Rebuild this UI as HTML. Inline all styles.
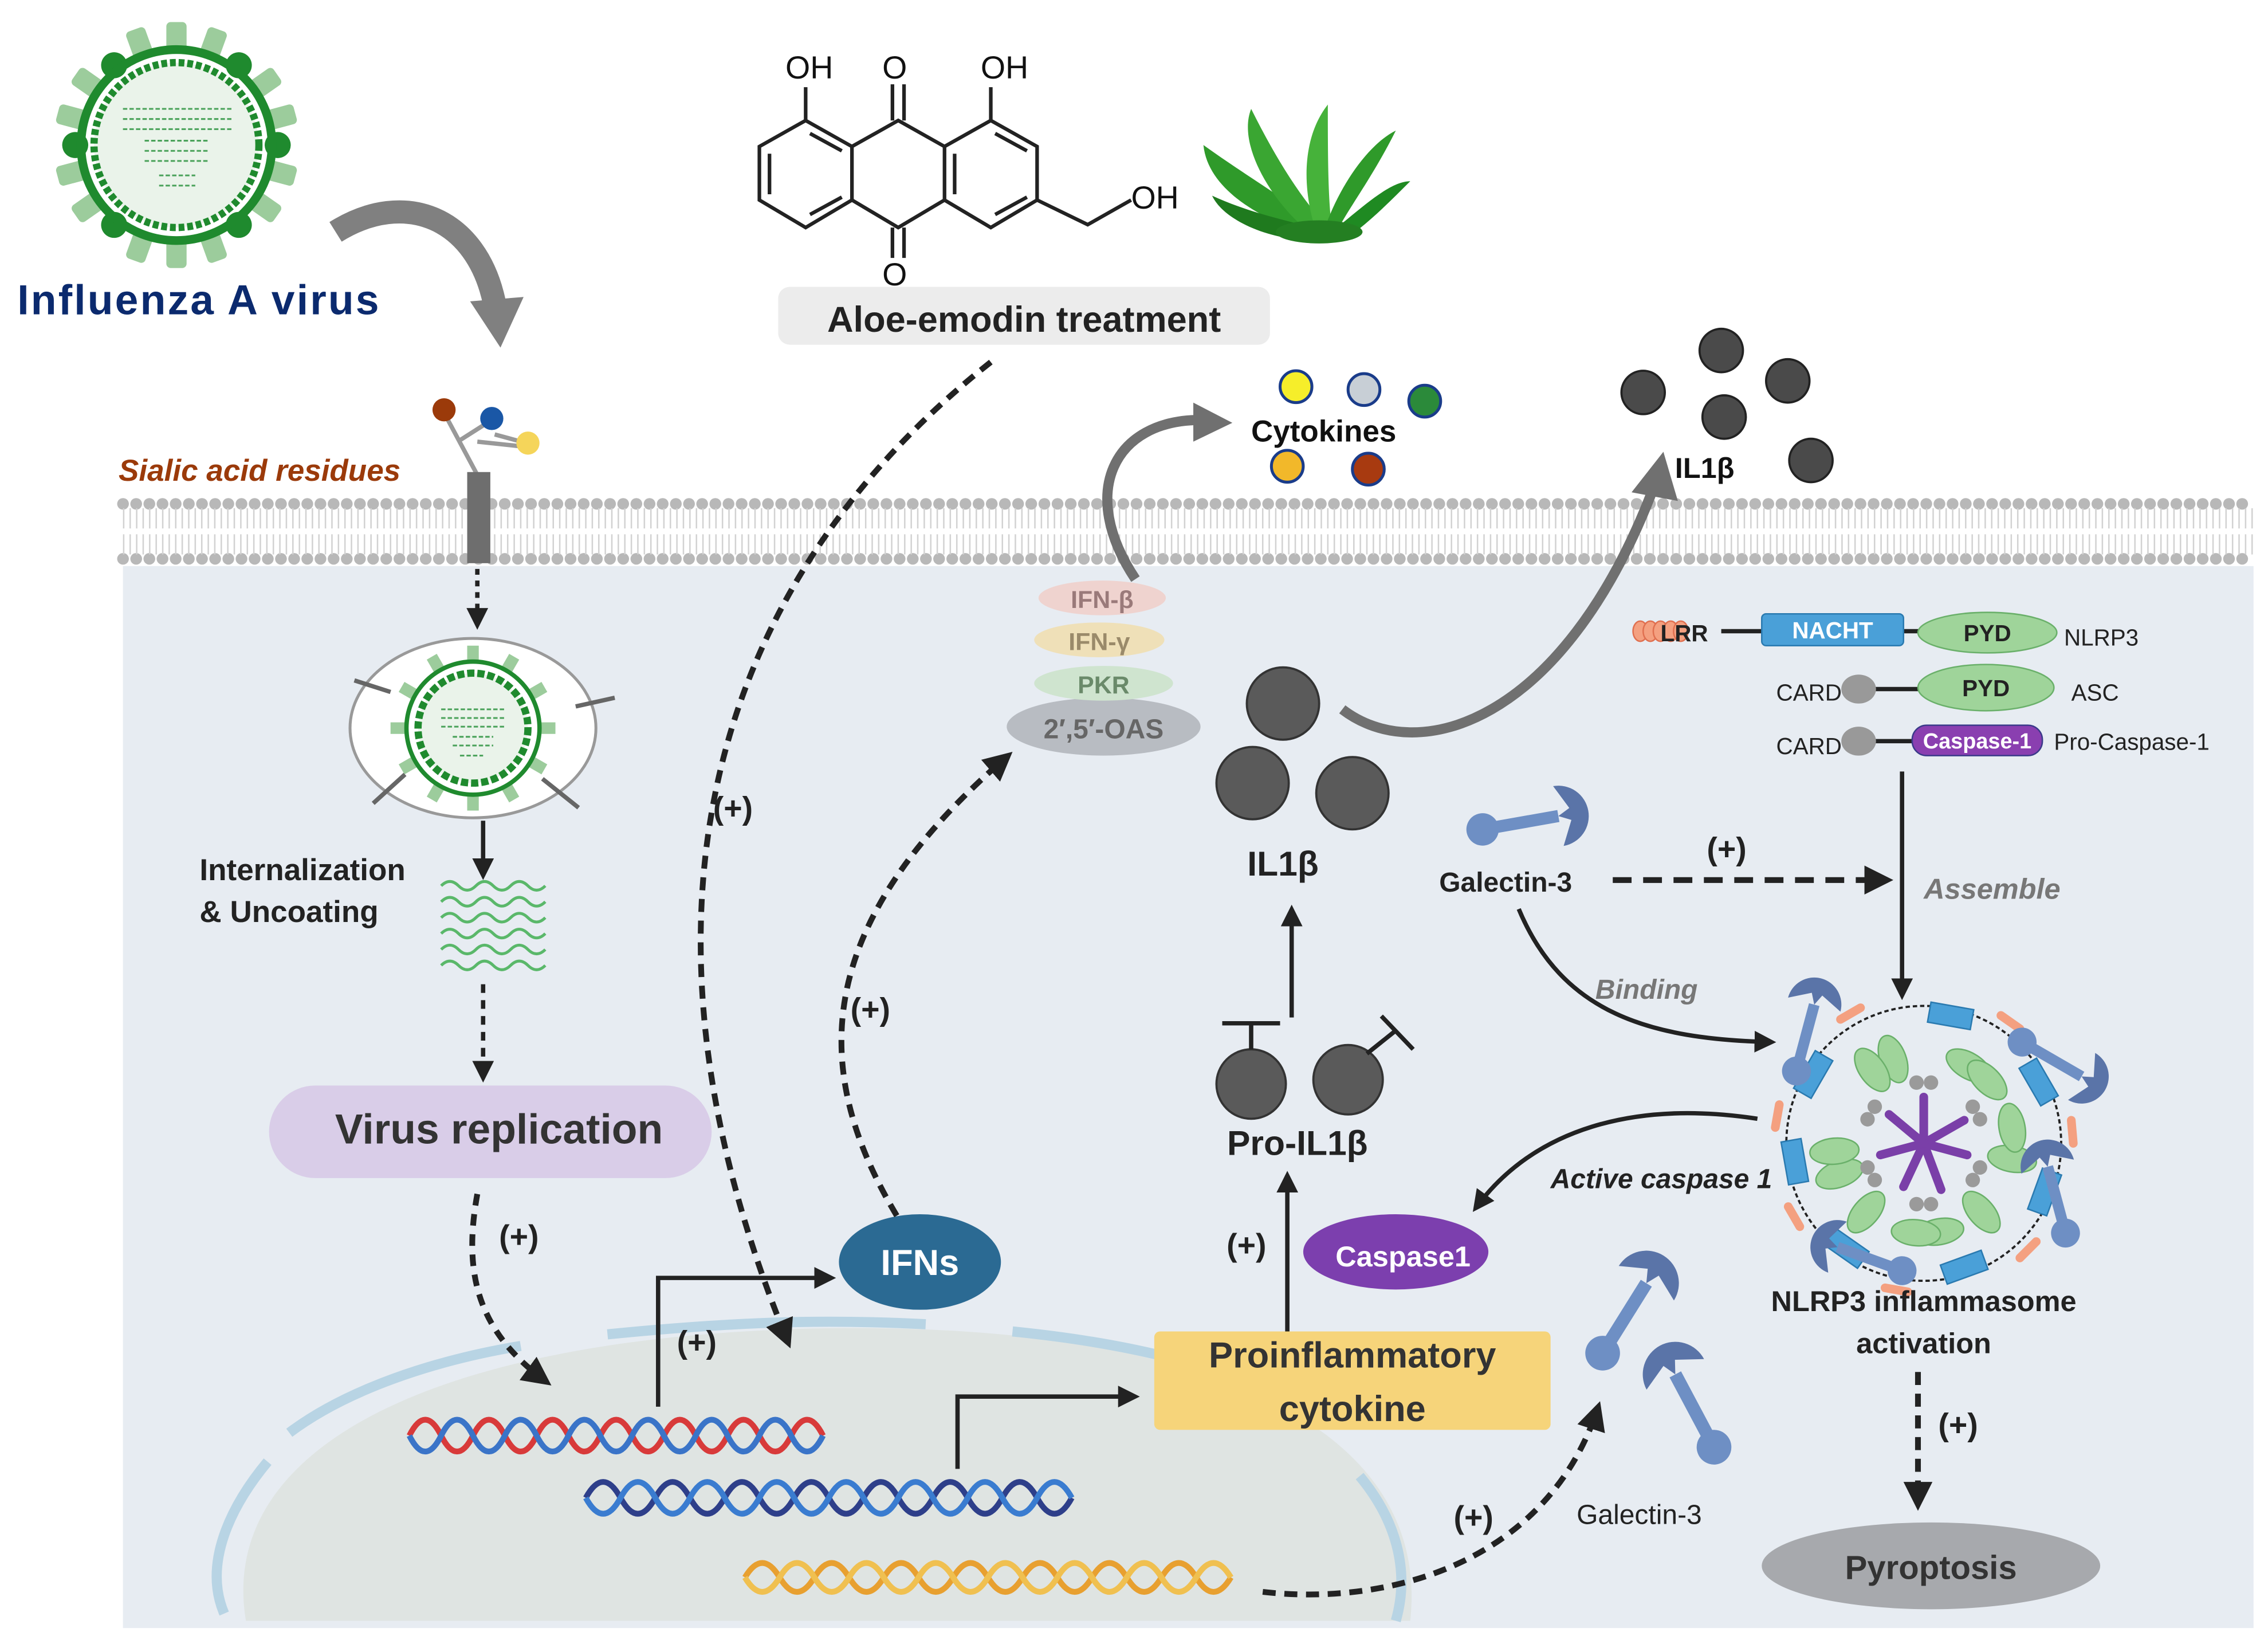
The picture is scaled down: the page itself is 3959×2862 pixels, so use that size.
<!DOCTYPE html>
<html><head><meta charset="utf-8"><style>
html,body{margin:0;padding:0;background:#fff;}
svg{display:block;}
text{font-family:"Liberation Sans",sans-serif;}
</style></head><body>
<svg xmlns="http://www.w3.org/2000/svg" width="3959" height="2862" viewBox="0 0 1568 1133">
<defs>
<marker id="ah" viewBox="0 0 10 10" refX="8" refY="5" markerWidth="5" markerHeight="5" orient="auto"><path d="M0,0 L10,5 L0,10 Z" fill="#222"/></marker>
<g id="gal">
<line x1="0" y1="0" x2="38" y2="0" stroke="#6e8fc4" stroke-width="6"/>
<circle cx="0" cy="0" r="8" fill="#6e8fc4"/>
<path d="M38,0 m0,-15 a15,15 0 1,1 0,30 l6,-12 l-6,-3 l6,-3 z" fill="#5a74a8"/>
</g>
</defs>
<rect width="1568" height="1133" fill="#fff"/>
<!-- cell interior -->
<rect x="85" y="388" width="1473" height="737" fill="#e7ecf2"/>
<!-- membrane -->
<g>
<rect x="83" y="343" width="1477" height="48" fill="#fff"/>
<path d="M85,348 H1558" stroke="#b8b8b8" stroke-width="8" stroke-dasharray="0.1 9" stroke-linecap="round"/>
<path d="M85,386 H1558" stroke="#b8b8b8" stroke-width="8" stroke-dasharray="0.1 9" stroke-linecap="round"/>
<path d="M85,358 H1558" stroke="#d2d2d2" stroke-width="14" stroke-dasharray="1 3.5"/>
<path d="M85,376 H1558" stroke="#d2d2d2" stroke-width="14" stroke-dasharray="1 3.5"/>
</g>
<!-- nucleus -->
<path d="M170,1120 C150,1000 300,925 560,918 C820,912 990,980 975,1120 Z" fill="#dfe4e2"/>
<path d="M155,1115 C140,1080 160,1040 185,1010" stroke="#b8d4e4" stroke-width="7" fill="none"/>
<path d="M200,990 C240,960 300,940 360,930" stroke="#b8d4e4" stroke-width="7" fill="none"/>
<path d="M420,922 C520,912 580,912 640,915" stroke="#b8d4e4" stroke-width="7" fill="none"/>
<path d="M700,920 C780,928 860,945 920,985" stroke="#b8d4e4" stroke-width="7" fill="none"/>
<path d="M940,1020 C965,1050 975,1085 965,1120" stroke="#b8d4e4" stroke-width="7" fill="none"/>

<!-- virus -->
<g>
<g fill="#9ccc9c">
<rect x="115" y="15" width="14" height="22" rx="3"/><rect x="115" y="15" width="14" height="22" rx="3" transform="rotate(20 122 100)"/><rect x="115" y="15" width="14" height="22" rx="3" transform="rotate(-20 122 100)"/>
<rect x="115" y="15" width="14" height="22" rx="3" transform="rotate(55 122 100)"/><rect x="115" y="15" width="14" height="22" rx="3" transform="rotate(75 122 100)"/><rect x="115" y="15" width="14" height="22" rx="3" transform="rotate(105 122 100)"/>
<rect x="115" y="15" width="14" height="22" rx="3" transform="rotate(125 122 100)"/><rect x="115" y="15" width="14" height="22" rx="3" transform="rotate(160 122 100)"/><rect x="115" y="15" width="14" height="22" rx="3" transform="rotate(180 122 100)"/>
<rect x="115" y="15" width="14" height="22" rx="3" transform="rotate(200 122 100)"/><rect x="115" y="15" width="14" height="22" rx="3" transform="rotate(235 122 100)"/><rect x="115" y="15" width="14" height="22" rx="3" transform="rotate(255 122 100)"/>
<rect x="115" y="15" width="14" height="22" rx="3" transform="rotate(285 122 100)"/><rect x="115" y="15" width="14" height="22" rx="3" transform="rotate(305 122 100)"/><rect x="115" y="15" width="14" height="22" rx="3" transform="rotate(-55 122 100)"/>
</g>
<g fill="#1f8a2e">
<circle cx="122" cy="30" r="9" transform="rotate(-38 122 100)"/><circle cx="122" cy="30" r="9" transform="rotate(38 122 100)"/><circle cx="122" cy="30" r="9" transform="rotate(90 122 100)"/><circle cx="122" cy="30" r="9" transform="rotate(142 122 100)"/><circle cx="122" cy="30" r="9" transform="rotate(218 122 100)"/><circle cx="122" cy="30" r="9" transform="rotate(270 122 100)"/>
</g>
<circle cx="122" cy="100" r="66" fill="none" stroke="#1f8a2e" stroke-width="6"/>
<circle cx="122" cy="100" r="57" fill="#eaf3ea" stroke="#1f8a2e" stroke-width="5" stroke-dasharray="4 2"/>
<g stroke="#4aa25a" stroke-width="1.2" fill="none">
<path d="M85,75 h75 M85,82 h75 M85,89 h75 M100,97 h45 M100,104 h45 M100,111 h45 M110,121 h25 M110,128 h25" stroke-dasharray="3 1.5"/>
</g>
</g>
<text x="12" y="217" font-size="29" font-weight="bold" fill="#0b2a6e" textLength="250">Influenza A virus</text>
<path d="M232,160 C280,130 330,150 342,210" stroke="#808080" stroke-width="16" fill="none"/>
<path d="M325,208 L346,240 L362,205 Z" fill="#808080"/>

<!-- molecule -->
<g stroke="#222" stroke-width="2.5" fill="none">
<path d="M557,83 L589,101 L589,138 L557,157 L525,138 L525,101 Z"/>
<path d="M589,101 L621,83 L653,101 L653,138 L621,157 L589,138"/>
<path d="M653,101 L685,83 L717,101 L717,138 L685,157 L653,138"/>
<path d="M532,106 L532,134 M560,92 L582,104 M560,148 L582,136 M660,106 L660,134 M688,92 L710,104 M688,148 L710,136"/>
<path d="M557,83 L557,60 M685,83 L685,60 M617,83 L617,58 M625,83 L625,58 M617,157 L617,178 M625,157 L625,178 M717,138 L752,155 L782,138"/>
</g>
<text x="543" y="54" font-size="22" fill="#111">OH</text>
<text x="610" y="54" font-size="22" fill="#111">O</text>
<text x="678" y="54" font-size="22" fill="#111">OH</text>
<text x="782" y="144" font-size="22" fill="#111">OH</text>
<text x="610" y="197" font-size="22" fill="#111">O</text>
<!-- aloe -->
<g fill="#2f9a2a">
<path d="M900,160 C870,150 835,130 832,100 C860,120 885,135 905,150 Z"/>
<path d="M905,160 C880,140 855,100 865,75 C880,105 895,130 912,150 Z" fill="#3aa632"/>
<path d="M910,160 C900,130 900,95 918,72 C918,100 918,130 920,150 Z" fill="#46b23a"/>
<path d="M915,160 C925,130 945,100 965,90 C950,120 935,140 925,158 Z" fill="#2f9a2a"/>
<path d="M918,162 C940,145 960,125 975,125 C960,140 945,155 930,165 Z" fill="#1f8a22"/>
<path d="M895,165 C870,162 845,150 838,135 C860,145 880,150 900,155 Z" fill="#1f7a1e"/>
<ellipse cx="912" cy="160" rx="30" ry="8" fill="#247f22"/>
</g>
<rect x="538" y="198" width="340" height="40" rx="8" fill="#ececec"/>
<text x="708" y="229" font-size="25" font-weight="bold" fill="#222" text-anchor="middle">Aloe-emodin treatment</text>

<!-- receptor -->
<g stroke="#999" stroke-width="3" fill="none"><path d="M330,328 L307,285 M318,304 L340,290 M330,305 L358,308 M342,300 L364,306"/></g>
<circle cx="307" cy="283" r="8" fill="#9b3a0a"/><circle cx="340" cy="289" r="8" fill="#1a57a6"/><circle cx="365" cy="306" r="8" fill="#f5d55a"/>
<rect x="323" y="326" width="16" height="63" fill="#6e6e6e"/>
<text x="82" y="332" font-size="21" font-weight="bold" font-style="italic" fill="#9b3a0a">Sialic acid residues</text>
<line x1="330" y1="393" x2="330" y2="432" stroke="#222" stroke-width="3" stroke-dasharray="4 4" marker-end="url(#ah)"/>

<!-- endosome -->
<ellipse cx="327" cy="503" rx="85" ry="62" fill="#fff" stroke="#999" stroke-width="2"/>
<g fill="#9ccc9c">
<rect x="323" y="446" width="8" height="10" transform="rotate(0 327 503)"/><rect x="323" y="446" width="8" height="10" transform="rotate(30 327 503)"/><rect x="323" y="446" width="8" height="10" transform="rotate(60 327 503)"/><rect x="323" y="446" width="8" height="10" transform="rotate(90 327 503)"/><rect x="323" y="446" width="8" height="10" transform="rotate(120 327 503)"/><rect x="323" y="446" width="8" height="10" transform="rotate(150 327 503)"/><rect x="323" y="446" width="8" height="10" transform="rotate(180 327 503)"/><rect x="323" y="446" width="8" height="10" transform="rotate(210 327 503)"/><rect x="323" y="446" width="8" height="10" transform="rotate(240 327 503)"/><rect x="323" y="446" width="8" height="10" transform="rotate(270 327 503)"/><rect x="323" y="446" width="8" height="10" transform="rotate(300 327 503)"/><rect x="323" y="446" width="8" height="10" transform="rotate(330 327 503)"/>
</g>
<circle cx="327" cy="503" r="38" fill="#eaf3ea" stroke="#1f8a2e" stroke-width="5" stroke-dasharray="5 2"/>
<circle cx="327" cy="503" r="46" fill="none" stroke="#1f8a2e" stroke-width="3"/>
<g stroke="#4aa25a" stroke-width="1.2" stroke-dasharray="3 1.5"><path d="M305,490 h44 M305,496 h44 M305,502 h44 M313,509 h28 M313,515 h28 M318,522 h16"/></g>
<g stroke="#666" stroke-width="3"><line x1="245" y1="470" x2="270" y2="478"/><line x1="425" y1="482" x2="398" y2="488"/><line x1="258" y1="555" x2="280" y2="535"/><line x1="400" y1="558" x2="375" y2="538"/></g>
<line x1="334" y1="567" x2="334" y2="605" stroke="#222" stroke-width="3" marker-end="url(#ah)"/>
<g stroke="#5ab86a" stroke-width="2" fill="none">
<path d="M305,612 q6,-6 12,0 t12,0 t12,0 t12,0 t12,0 t12,0"/><path d="M305,623 q6,-6 12,0 t12,0 t12,0 t12,0 t12,0 t12,0"/><path d="M305,634 q6,-6 12,0 t12,0 t12,0 t12,0 t12,0 t12,0"/><path d="M305,645 q6,-6 12,0 t12,0 t12,0 t12,0 t12,0 t12,0"/><path d="M305,656 q6,-6 12,0 t12,0 t12,0 t12,0 t12,0 t12,0"/><path d="M305,667 q6,-6 12,0 t12,0 t12,0 t12,0 t12,0 t12,0"/>
</g>
<text x="138" y="608" font-size="21" font-weight="bold" fill="#222">Internalization</text>
<text x="138" y="637" font-size="21" font-weight="bold" fill="#222">&amp; Uncoating</text>
<line x1="334" y1="680" x2="334" y2="745" stroke="#222" stroke-width="3" stroke-dasharray="6 5" marker-end="url(#ah)"/>
<rect x="186" y="750" width="306" height="64" rx="32" fill="#d9cde8"/>
<text x="345" y="790" font-size="29" font-weight="bold" fill="#333" text-anchor="middle">Virus replication</text>
<path d="M330,825 C320,880 330,920 378,955" stroke="#222" stroke-width="4" stroke-dasharray="8 6" fill="none" marker-end="url(#ah)"/>
<text x="345" y="862" font-size="22" font-weight="bold" fill="#222">(+)</text>

<!-- DNA -->
<g fill="none" stroke-width="4">
<path d="M283,992 q11,-22 22,0 t22,0 t22,0 t22,0 t22,0 t22,0 t22,0 t22,0 t22,0 t22,0 t22,0 t22,0 t22,0" stroke="#d83a3a"/>
<path d="M283,992 q11,22 22,0 t22,0 t22,0 t22,0 t22,0 t22,0 t22,0 t22,0 t22,0 t22,0 t22,0 t22,0 t22,0" stroke="#3a74c8"/>
<path d="M405,1035 q12,-22 24,0 t24,0 t24,0 t24,0 t24,0 t24,0 t24,0 t24,0 t24,0 t24,0 t24,0 t24,0 t24,0 t24,0" stroke="#2e3f8a"/>
<path d="M405,1035 q12,22 24,0 t24,0 t24,0 t24,0 t24,0 t24,0 t24,0 t24,0 t24,0 t24,0 t24,0 t24,0 t24,0 t24,0" stroke="#3a7cd0"/>
<path d="M515,1090 q12,-20 24,0 t24,0 t24,0 t24,0 t24,0 t24,0 t24,0 t24,0 t24,0 t24,0 t24,0 t24,0 t24,0 t24,0" stroke="#e8a030"/>
<path d="M515,1090 q12,20 24,0 t24,0 t24,0 t24,0 t24,0 t24,0 t24,0 t24,0 t24,0 t24,0 t24,0 t24,0 t24,0 t24,0" stroke="#f0c050"/>
</g>
<!-- IFN arrows -->
<path d="M455,972 V883 H575" stroke="#222" stroke-width="3" fill="none" marker-end="url(#ah)"/>
<text x="468" y="935" font-size="22" font-weight="bold" fill="#222">(+)</text>
<ellipse cx="636" cy="872" rx="56" ry="33" fill="#2b6a93"/>
<text x="636" y="881" font-size="25" font-weight="bold" fill="#fff" text-anchor="middle">IFNs</text>
<path d="M662,1015 V965 H785" stroke="#222" stroke-width="3" fill="none" marker-end="url(#ah)"/>
<path d="M685,250 C520,380 410,600 545,928" stroke="#222" stroke-width="4" stroke-dasharray="9 6" fill="none" marker-end="url(#ah)"/>
<text x="493" y="566" font-size="22" font-weight="bold" fill="#222">(+)</text>
<path d="M620,840 C560,740 560,640 697,522" stroke="#222" stroke-width="4" stroke-dasharray="9 6" fill="none" marker-end="url(#ah)"/>
<text x="588" y="705" font-size="22" font-weight="bold" fill="#222">(+)</text>

<!-- IFN stack -->
<ellipse cx="763" cy="502" rx="67" ry="20" fill="#b8bcc2"/>
<text x="763" y="510" font-size="19" font-weight="bold" fill="#666" text-anchor="middle">2′,5′-OAS</text>
<ellipse cx="763" cy="472" rx="48" ry="12" fill="#cfe4cf"/>
<text x="763" y="479" font-size="17" font-weight="bold" fill="#6a8a6a" text-anchor="middle">PKR</text>
<ellipse cx="760" cy="442" rx="45" ry="12" fill="#efe0b8"/>
<text x="760" y="449" font-size="17" font-weight="bold" fill="#9a8a6a" text-anchor="middle">IFN-γ</text>
<ellipse cx="762" cy="413" rx="44" ry="12" fill="#efd3cf"/>
<text x="762" y="420" font-size="17" font-weight="bold" fill="#9a7a7a" text-anchor="middle">IFN-β</text>
<path d="M785,400 C745,340 770,290 830,290" stroke="#707070" stroke-width="7" fill="none"/>
<path d="M825,278 L852,292 L825,305 Z" fill="#707070"/>
<!-- cytokines -->
<circle cx="896" cy="267" r="11" fill="#f6ee2a" stroke="#1a3c8a" stroke-width="2"/>
<circle cx="943" cy="269" r="11" fill="#c8cfd6" stroke="#1a3c8a" stroke-width="2"/>
<circle cx="985" cy="277" r="11" fill="#2b8a3a" stroke="#1a3c8a" stroke-width="2"/>
<circle cx="890" cy="322" r="11" fill="#f2b82a" stroke="#1a3c8a" stroke-width="2"/>
<circle cx="946" cy="324" r="11" fill="#a83a10" stroke="#1a3c8a" stroke-width="2"/>
<text x="865" y="305" font-size="21" font-weight="bold" fill="#111">Cytokines</text>
<!-- IL1b outside -->
<g fill="#4a4a4a" stroke="#222" stroke-width="1.5">
<circle cx="1190" cy="242" r="15"/><circle cx="1236" cy="263" r="15"/><circle cx="1136" cy="271" r="15"/><circle cx="1192" cy="288" r="15"/><circle cx="1252" cy="318" r="15"/>
</g>
<text x="1158" y="330" font-size="20" font-weight="bold" fill="#111">IL1β</text>
<path d="M928,490 C980,530 1080,500 1142,340" stroke="#707070" stroke-width="7" fill="none"/>
<path d="M1128,340 L1150,312 L1160,346 Z" fill="#707070"/>
<!-- IL1b inside -->
<g fill="#5a5a5a" stroke="#333" stroke-width="1.5">
<circle cx="887" cy="486" r="25"/><circle cx="866" cy="541" r="25"/><circle cx="935" cy="548" r="25"/>
</g>
<text x="887" y="605" font-size="24" font-weight="bold" fill="#222" text-anchor="middle">IL1β</text>
<line x1="893" y1="703" x2="893" y2="628" stroke="#222" stroke-width="3" marker-end="url(#ah)"/>
<g fill="#5a5a5a" stroke="#333" stroke-width="1.5"><circle cx="865" cy="749" r="24"/><circle cx="932" cy="746" r="24"/></g>
<path d="M865,725 V707 M845,707 H885 M945,728 L965,712 M955,702 L977,725" stroke="#222" stroke-width="3"/>
<text x="897" y="798" font-size="24" font-weight="bold" fill="#222" text-anchor="middle">Pro-IL1β</text>
<line x1="890" y1="920" x2="890" y2="812" stroke="#222" stroke-width="3" marker-end="url(#ah)"/>
<text x="848" y="868" font-size="22" font-weight="bold" fill="#222">(+)</text>
<ellipse cx="965" cy="865" rx="64" ry="26" fill="#7c3fae"/>
<text x="970" y="875" font-size="20" font-weight="bold" fill="#fff" text-anchor="middle">Caspase1</text>
<rect x="798" y="920" width="274" height="68" rx="4" fill="#f6d47a"/>
<text x="935" y="945" font-size="25" font-weight="bold" fill="#333" text-anchor="middle">Proinflammatory</text>
<text x="935" y="982" font-size="25" font-weight="bold" fill="#333" text-anchor="middle">cytokine</text>
<!-- galectin bottom -->
<path d="M873,1100 C960,1110 1070,1080 1105,972" stroke="#222" stroke-width="4" stroke-dasharray="9 6" fill="none" marker-end="url(#ah)"/>
<text x="1005" y="1056" font-size="22" font-weight="bold" fill="#222">(+)</text>
<use href="#gal" transform="translate(1108,935) rotate(-58) scale(1.5)"/>
<use href="#gal" transform="translate(1185,1000) rotate(-118) scale(1.5)"/>
<text x="1090" y="1053" font-size="19" fill="#222">Galectin-3</text>

<!-- NLRP3 components -->
<g fill="#f4a080" stroke="#e07050" stroke-width="1">
<ellipse cx="1134" cy="436" rx="5" ry="7"/><ellipse cx="1141" cy="436" rx="5" ry="7"/><ellipse cx="1148" cy="436" rx="5" ry="7"/><ellipse cx="1155" cy="436" rx="5" ry="7"/><ellipse cx="1162" cy="436" rx="5" ry="7"/>
</g>
<text x="1148" y="443" font-size="16" font-weight="bold" fill="#222">LRR</text>
<line x1="1190" y1="436" x2="1330" y2="436" stroke="#222" stroke-width="3"/>
<rect x="1218" y="424" width="98" height="22" rx="3" fill="#4aa0d8" stroke="#2a7ab0"/>
<text x="1267" y="441" font-size="16" font-weight="bold" fill="#fff" text-anchor="middle">NACHT</text>
<ellipse cx="1374" cy="437" rx="48" ry="14" fill="#9fd49a" stroke="#6ab06a"/>
<text x="1374" y="443" font-size="16" font-weight="bold" fill="#222" text-anchor="middle">PYD</text>
<text x="1427" y="446" font-size="16" fill="#222">NLRP3</text>
<text x="1228" y="484" font-size="16" fill="#222">CARD</text>
<line x1="1290" y1="476" x2="1330" y2="476" stroke="#222" stroke-width="3"/>
<ellipse cx="1285" cy="476" rx="12" ry="10" fill="#999"/>
<ellipse cx="1373" cy="475" rx="47" ry="16" fill="#9fd49a" stroke="#6ab06a"/>
<text x="1373" y="481" font-size="16" font-weight="bold" fill="#222" text-anchor="middle">PYD</text>
<text x="1432" y="484" font-size="16" fill="#222">ASC</text>
<text x="1228" y="521" font-size="16" fill="#222">CARD</text>
<line x1="1290" y1="512" x2="1330" y2="512" stroke="#222" stroke-width="3"/>
<ellipse cx="1285" cy="512" rx="12" ry="10" fill="#999"/>
<rect x="1322" y="501" width="90" height="21" rx="10" fill="#8a3fb0" stroke="#3a3a8a"/>
<text x="1367" y="517" font-size="15" font-weight="bold" fill="#fff" text-anchor="middle">Caspase-1</text>
<text x="1420" y="518" font-size="16" fill="#222">Pro-Caspase-1</text>
<line x1="1315" y1="533" x2="1315" y2="688" stroke="#222" stroke-width="3" marker-end="url(#ah)"/>
<text x="1330" y="621" font-size="20" font-weight="bold" font-style="italic" fill="#777">Assemble</text>
<use href="#gal" transform="translate(1025,573) rotate(-10) scale(1.4)"/>
<text x="995" y="616" font-size="19" font-weight="bold" fill="#222">Galectin-3</text>
<line x1="1115" y1="608" x2="1305" y2="608" stroke="#222" stroke-width="4" stroke-dasharray="13 8" marker-end="url(#ah)"/>
<text x="1180" y="594" font-size="22" font-weight="bold" fill="#222">(+)</text>
<path d="M1050,628 C1080,700 1140,718 1225,720" stroke="#222" stroke-width="3" fill="none" marker-end="url(#ah)"/>
<text x="1103" y="690" font-size="19" font-weight="bold" font-style="italic" fill="#777">Binding</text>
<path d="M1215,773 C1130,760 1060,780 1020,835" stroke="#222" stroke-width="3" fill="none" marker-end="url(#ah)"/>
<text x="1072" y="821" font-size="19" font-weight="bold" font-style="italic" fill="#222">Active caspase 1</text>

<!-- inflammasome -->
<g transform="translate(1330,790)">
<circle r="95" fill="none" stroke="#222" stroke-width="1.5" stroke-dasharray="3 2"/>
<g fill="#4aa0d8" stroke="#2a7ab0">
<rect x="-12" y="-97" width="30" height="14" transform="rotate(10)"/><rect x="-12" y="-97" width="30" height="14" transform="rotate(60)"/><rect x="-12" y="-97" width="30" height="14" transform="rotate(110)"/><rect x="-12" y="-97" width="30" height="14" transform="rotate(160)"/><rect x="-12" y="-97" width="30" height="14" transform="rotate(215)"/><rect x="-12" y="-97" width="30" height="14" transform="rotate(260)"/><rect x="-12" y="-97" width="30" height="14" transform="rotate(300)"/>
</g>
<g fill="#f4a080"><rect x="-10" y="-106" width="22" height="6" rx="3" transform="rotate(35)"/><rect x="-10" y="-106" width="22" height="6" rx="3" transform="rotate(85)"/><rect x="-10" y="-106" width="22" height="6" rx="3" transform="rotate(135)"/><rect x="-10" y="-106" width="22" height="6" rx="3" transform="rotate(190)"/><rect x="-10" y="-106" width="22" height="6" rx="3" transform="rotate(240)"/><rect x="-10" y="-106" width="22" height="6" rx="3" transform="rotate(280)"/><rect x="-10" y="-106" width="22" height="6" rx="3" transform="rotate(330)"/></g>
<g fill="#9fd49a" stroke="#6ab06a">
<ellipse cx="0" cy="-62" rx="9" ry="17" transform="rotate(-20)"/><ellipse cx="0" cy="-62" rx="9" ry="17" transform="rotate(-35)"/><ellipse cx="0" cy="-62" rx="17" ry="9" transform="rotate(30)"/><ellipse cx="0" cy="-62" rx="17" ry="9" transform="rotate(45)"/><ellipse cx="0" cy="-62" rx="9" ry="17" transform="rotate(100)"/><ellipse cx="0" cy="-62" rx="17" ry="9" transform="rotate(80)"/><ellipse cx="0" cy="-62" rx="17" ry="9" transform="rotate(170)"/><ellipse cx="0" cy="-62" rx="17" ry="9" transform="rotate(185)"/><ellipse cx="0" cy="-62" rx="9" ry="17" transform="rotate(140)"/><ellipse cx="0" cy="-62" rx="9" ry="17" transform="rotate(250)"/><ellipse cx="0" cy="-62" rx="9" ry="17" transform="rotate(265)"/><ellipse cx="0" cy="-62" rx="9" ry="17" transform="rotate(220)"/>
</g>
<g fill="#9a9a9a"><circle cx="-5" cy="-42" r="5" transform="rotate(0)"/><circle cx="5" cy="-42" r="5" transform="rotate(0)"/><circle cx="-5" cy="-42" r="5" transform="rotate(60)"/><circle cx="5" cy="-42" r="5" transform="rotate(60)"/><circle cx="-5" cy="-42" r="5" transform="rotate(120)"/><circle cx="5" cy="-42" r="5" transform="rotate(120)"/><circle cx="-5" cy="-42" r="5" transform="rotate(180)"/><circle cx="5" cy="-42" r="5" transform="rotate(180)"/><circle cx="-5" cy="-42" r="5" transform="rotate(240)"/><circle cx="5" cy="-42" r="5" transform="rotate(240)"/><circle cx="-5" cy="-42" r="5" transform="rotate(300)"/><circle cx="5" cy="-42" r="5" transform="rotate(300)"/></g>
<g stroke="#7a3fa8" stroke-width="6" stroke-linecap="round"><line x1="0" y1="0" x2="0" y2="-32"/><line x1="0" y1="0" x2="28" y2="-16"/><line x1="0" y1="0" x2="30" y2="8"/><line x1="0" y1="0" x2="12" y2="32"/><line x1="0" y1="0" x2="-14" y2="30"/><line x1="0" y1="0" x2="-30" y2="8"/><line x1="0" y1="0" x2="-24" y2="-20"/></g>
</g>
<use href="#gal" transform="translate(1242,740) rotate(-75) scale(1.25)"/>
<use href="#gal" transform="translate(1398,720) rotate(30) scale(1.25)"/>
<use href="#gal" transform="translate(1428,852) rotate(-105) scale(1.25)"/>
<use href="#gal" transform="translate(1315,878) rotate(200) scale(1.25)"/>
<text x="1330" y="906" font-size="20" font-weight="bold" fill="#222" text-anchor="middle">NLRP3 inflammasome</text>
<text x="1330" y="935" font-size="20" font-weight="bold" fill="#222" text-anchor="middle">activation</text>
<line x1="1326" y1="948" x2="1326" y2="1040" stroke="#222" stroke-width="4" stroke-dasharray="9 6" marker-end="url(#ah)"/>
<text x="1340" y="992" font-size="22" font-weight="bold" fill="#222">(+)</text>
<ellipse cx="1335" cy="1082" rx="117" ry="30" fill="#a7a9ad"/>
<text x="1335" y="1091" font-size="23" font-weight="bold" fill="#333" text-anchor="middle">Pyroptosis</text>
</svg>
</body></html>
